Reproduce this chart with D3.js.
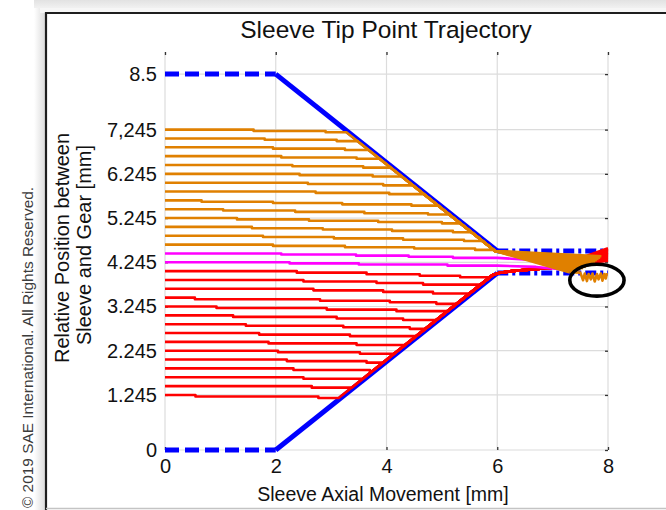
<!DOCTYPE html>
<html>
<head>
<meta charset="utf-8">
<script src="https://cdn.jsdelivr.net/npm/d3@7"></script>
<style>
  html, body { margin: 0; padding: 0; background: #ffffff; }
  svg { display: block; }
  text { font-family: "Liberation Sans", Arial, Helvetica, sans-serif; }
</style>
</head>
<body>
<svg id="chart" width="666" height="510"></svg>
<script>
// ---- data -------------------------------------------------------------
const xTicks = [0, 2, 4, 6, 8];
const xTickLabels = ["0", "2", "4", "6", "8"];
const yTicks = [0, 1.245, 2.245, 3.245, 4.245, 5.245, 6.245, 7.245, 8.5];
const yTickLabels = ["0", "1.245", "2.245", "3.245", "4.245", "5.245", "6.245", "7,245", "8.5"];

// guide limits: upper and lower contact envelope
const upperPre  = [[0, 8.5], [2, 8.5]];
const upperRamp = [[2, 8.5], [6, 4.5]];
const upperPost = [[6, 4.5], [8, 4.5]];
const lowerPre  = [[0, 0], [2, 0]];
const lowerRamp = [[2, 0], [6, 4.0]];
const lowerPost = [[6, 4.0], [8, 4.0]];

// orange tip paths (start above the gap): stepped drift, then follow upper ramp
const orangeSteps = [
  [[0, 7.245], [1.6, 7.215], [2.9, 7.185]],
  [[0, 7.045], [1.8, 7.015], [3.1, 6.985]],
  [[0, 6.845], [1.95, 6.815], [3.25, 6.785]],
  [[0, 6.645], [2.1, 6.615], [3.46, 6.585]],
  [[0, 6.445], [2.3, 6.415], [3.58, 6.385]],
  [[0, 6.245], [2.43, 6.215], [3.75, 6.185]],
  [[0, 6.045], [2.58, 6.015], [3.94, 5.985]],
  [[0, 5.845], [2.72, 5.815], [4.05, 5.785]],
  [[0, 5.645], [0.66, 5.615], [1.95, 5.585], [3.2, 5.555], [4.45, 5.525]],
  [[0, 5.445], [1.05, 5.415], [2.35, 5.385], [3.6, 5.355], [4.75, 5.325]],
  [[0, 5.245], [1.3, 5.215], [2.6, 5.185], [3.85, 5.155], [5.0, 5.125]],
  [[0, 5.045], [1.57, 5.015], [2.85, 4.985], [4.1, 4.955], [5.2, 4.925]],
  [[0, 4.845], [1.77, 4.815], [3.05, 4.785], [4.3, 4.755], [5.4, 4.725]],
  [[0, 4.645], [1.95, 4.615], [3.25, 4.585], [4.5, 4.555], [5.6, 4.525]]
];
const orangeTails = [
  [[3.275, 7.185], [5.96, 4.5], [7.88, 4.38]],
  [[3.475, 6.985], [5.96, 4.5], [7.86, 4.35]],
  [[3.675, 6.785], [5.96, 4.5], [7.83, 4.32]],
  [[3.875, 6.585], [5.96, 4.5], [7.80, 4.29]],
  [[4.075, 6.385], [5.96, 4.5], [7.77, 4.26]],
  [[4.275, 6.185], [5.96, 4.5], [7.73, 4.23]],
  [[4.475, 5.985], [5.96, 4.5], [7.69, 4.20]],
  [[4.675, 5.785], [5.96, 4.5], [7.65, 4.17]],
  [[4.935, 5.525], [5.96, 4.5], [7.60, 4.14]],
  [[5.135, 5.325], [5.96, 4.5], [7.55, 4.11]],
  [[5.335, 5.125], [5.96, 4.5], [7.50, 4.08]],
  [[5.535, 4.925], [5.96, 4.5], [7.44, 4.06]],
  [[5.735, 4.725], [5.96, 4.5], [7.38, 4.04]],
  [[5.935, 4.525], [5.96, 4.5], [7.30, 4.02]]
];
// chattering of the orange paths at the end of travel
const orangeSettle = [
  [7.30, 4.02], [7.50, 4.01], [7.55, 3.84], [7.58, 3.99], [7.62, 3.82], [7.65, 3.98],
  [7.69, 3.86], [7.72, 3.99], [7.76, 3.81], [7.80, 3.98], [7.83, 3.86], [7.87, 3.99],
  [7.90, 3.83], [7.93, 3.98], [7.96, 3.88], [7.98, 4.00]
];

// magenta tip paths (start inside the gap)
const magentaSteps = [
  [[0, 4.445], [2.1, 4.42], [3.45, 4.395], [4.4, 4.37], [5.2, 4.345]],
  [[0, 4.245], [2.25, 4.22], [3.5, 4.195], [5.1, 4.17]]
];
const magentaTails = [
  [[6.0, 4.345], [6.7, 4.29], [7.3, 4.12]],
  [[6.0, 4.17], [6.7, 4.14], [7.2, 4.08]]
];

// red tip paths (start below the gap): stepped drift, then follow lower ramp
const redSteps = [
  [[0, 4.045], [2.38, 4.01], [3.64, 3.975], [4.6, 3.94], [5.33, 3.905]],
  [[0, 3.845], [2.5, 3.81], [3.82, 3.775], [4.66, 3.74]],
  [[0, 3.645], [2.68, 3.61], [3.94, 3.575], [4.84, 3.54]],
  [[0, 3.445], [0.54, 3.41], [2.8, 3.375], [4.06, 3.34], [4.9, 3.305]],
  [[0, 3.245], [0.93, 3.21], [2.92, 3.175], [4.18, 3.14]],
  [[0, 3.045], [1.23, 3.01], [3.1, 2.975], [4.3, 2.94]],
  [[0, 2.845], [1.46, 2.81], [3.22, 2.775], [4.42, 2.74]],
  [[0, 2.645], [1.7, 2.61], [3.34, 2.575]],
  [[0, 2.445], [1.87, 2.41], [3.46, 2.375]],
  [[0, 2.245], [2.04, 2.21], [3.52, 2.175]],
  [[0, 2.045], [2.2, 2.01], [3.64, 1.975]],
  [[0, 1.845], [2.32, 1.81], [3.7, 1.775]],
  [[0, 1.645], [2.5, 1.61]],
  [[0, 1.445], [2.65, 1.41]],
  [[0, 1.245], [0.55, 1.21], [2.77, 1.175]]
];
const redHits = [
  [5.865, 3.905], [5.70, 3.74], [5.50, 3.54], [5.265, 3.305], [5.10, 3.14],
  [4.90, 2.94], [4.70, 2.74], [4.535, 2.575], [4.335, 2.375], [4.135, 2.175],
  [3.935, 1.975], [3.735, 1.775], [3.57, 1.61], [3.37, 1.41], [3.135, 1.175]
];
const redEnds = [4.56, 4.54, 4.52, 4.50, 4.48, 4.46, 4.44, 4.42, 4.40, 4.38, 4.36, 4.34, 4.32, 4.30, 4.28];
const redCorner = [[5.92, 3.96], [6.05, 4.01], [6.3, 4.05], [7.0, 4.12]];

// ---- layout -----------------------------------------------------------
const svg = d3.select("#chart");
const x = d3.scaleLinear().domain([0, 8]).range([165, 608]);
const y = d3.scaleLinear().domain([0, 9]).range([450, 52]);

// window frame
const defs = svg.append("defs");
const gTop = defs.append("linearGradient").attr("id", "topShade").attr("x1", 0).attr("y1", 0).attr("x2", 0).attr("y2", 1);
gTop.append("stop").attr("offset", 0).attr("stop-color", "#e2e2e2");
gTop.append("stop").attr("offset", 1).attr("stop-color", "#f1f1f1");
const gLeft = defs.append("linearGradient").attr("id", "leftShade").attr("x1", 0).attr("y1", 0).attr("x2", 1).attr("y2", 0);
gLeft.append("stop").attr("offset", 0).attr("stop-color", "#ffffff");
gLeft.append("stop").attr("offset", 1).attr("stop-color", "#dcdcdc");

svg.append("rect").attr("x", 0).attr("y", 0).attr("width", 666).attr("height", 510).attr("fill", "#ffffff");
svg.append("rect").attr("x", 34).attr("y", 0).attr("width", 632).attr("height", 8).attr("fill", "url(#topShade)");
svg.append("rect").attr("x", 34).attr("y", 8).attr("width", 11).attr("height", 502).attr("fill", "url(#leftShade)");
svg.append("rect").attr("x", 40).attr("y", 8).attr("width", 626).attr("height", 5).attr("fill", "#f6f6f6");
svg.append("path").attr("d", "M46,510 V13 H666").attr("fill", "none").attr("stroke", "#1e1e1e").attr("stroke-width", 2.2);
svg.append("line").attr("x1", 46).attr("x2", 666).attr("y1", 508.5).attr("y2", 508.5).attr("stroke", "#c4c4c4").attr("stroke-width", 1.5);

// copyright notice
svg.append("text")
  .attr("transform", "translate(33,508) rotate(-90)")
  .attr("font-family", "'Open Sans', 'Noto Sans', sans-serif")
  .attr("font-size", 15.4)
  .attr("fill", "#3c3c3c")
  .text("© 2019 SAE International. All Rights Reserved.");

// grid
const grid = svg.append("g");
grid.selectAll("line.gx").data(xTicks).join("line")
  .attr("x1", d => x(d)).attr("x2", d => x(d)).attr("y1", y(9)).attr("y2", y(0))
  .attr("stroke", "#dcdcdc").attr("stroke-width", 1.2);
grid.selectAll("line.gy").data(yTicks).join("line")
  .attr("x1", x(0)).attr("x2", x(8)).attr("y1", d => y(d)).attr("y2", d => y(d))
  .attr("stroke", "#dcdcdc").attr("stroke-width", 1.2);

// axes with inward ticks on all four sides
function styleAxis(g) {
  g.select(".domain").remove();
  g.selectAll(".tick line").attr("stroke", "#333").attr("stroke-width", 1.3);
  g.selectAll(".tick text").attr("font-family", "'Liberation Sans', Arial, sans-serif").attr("font-size", 20).attr("fill", "#111");
}
svg.append("g").attr("transform", `translate(0,${y(0)})`)
  .call(d3.axisBottom(x).tickValues(xTicks).tickFormat((d, i) => xTickLabels[i]).tickSizeInner(-3).tickSizeOuter(0).tickPadding(9))
  .call(styleAxis);
svg.append("g").attr("transform", `translate(${x(0)},0)`)
  .call(d3.axisLeft(y).tickValues(yTicks).tickFormat((d, i) => yTickLabels[i]).tickSizeInner(-3).tickSizeOuter(0).tickPadding(8))
  .call(styleAxis);
svg.append("g").attr("transform", `translate(0,${y(9)})`)
  .call(d3.axisTop(x).tickValues(xTicks).tickFormat("").tickSizeInner(-3).tickSizeOuter(0))
  .call(styleAxis);
svg.append("g").attr("transform", `translate(${x(8)},0)`)
  .call(d3.axisRight(y).tickValues(yTicks).tickFormat("").tickSizeInner(-3).tickSizeOuter(0))
  .call(styleAxis);

// ---- marks ------------------------------------------------------------
const line = d3.line().x(d => x(d[0])).y(d => y(d[1]));
const plot = svg.append("g");

function drawLimit(pts, dash) {
  plot.append("path").attr("d", line(pts)).attr("fill", "none")
    .attr("stroke", "#0000ff").attr("stroke-width", 5)
    .attr("stroke-dasharray", dash);
}
drawLimit(upperPre, "14 6");
drawLimit(upperRamp, null);
drawLimit(upperPost, "11 4 3 4");
drawLimit(lowerPre, "14 6");
drawLimit(lowerRamp, null);
drawLimit(lowerPost, "11 4 3 4");

// expand a step-after vertex list into an explicit polyline
function stairs(steps) {
  const out = [steps[0]];
  for (let i = 1; i < steps.length; i++) {
    out.push([steps[i][0], steps[i - 1][1]]);
    out.push(steps[i]);
  }
  return out;
}
function drawPath(pts, color) {
  plot.append("path").attr("d", line(pts)).attr("fill", "none")
    .attr("stroke", color).attr("stroke-width", 2.6)
    .attr("stroke-linejoin", "round");
}

redSteps.forEach((s, i) => {
  drawPath(stairs(s).concat([redHits[i]], redCorner, [[8, redEnds[i]]]), "#ff0000");
});
magentaSteps.forEach((s, i) => {
  drawPath(stairs(s).concat(magentaTails[i]), "#ff00ff");
});
orangeSteps.forEach((s, i) => {
  drawPath(stairs(s).concat(orangeTails[i]), "#e08000");
});
drawPath(orangeSettle, "#e08000");

// highlight ring around the end-of-travel chatter
svg.append("ellipse")
  .attr("cx", x(7.8)).attr("cy", y(3.84))
  .attr("rx", x(0.49) - x(0)).attr("ry", y(0) - y(0.36))
  .attr("fill", "none").attr("stroke", "#000").attr("stroke-width", 3.6);

// ---- titles -----------------------------------------------------------
svg.append("text").attr("x", 386).attr("y", 38).attr("text-anchor", "middle")
  .attr("font-size", 24.5).attr("fill", "#111").text("Sleeve Tip Point Trajectory");
svg.append("text").attr("x", 383).attr("y", 501).attr("text-anchor", "middle")
  .attr("font-size", 19.5).attr("fill", "#111").text("Sleeve Axial Movement [mm]");
svg.append("text").attr("transform", "translate(69,248) rotate(-90)").attr("text-anchor", "middle")
  .attr("font-size", 20).attr("fill", "#111").text("Relative Position between");
svg.append("text").attr("transform", "translate(91,245) rotate(-90)").attr("text-anchor", "middle")
  .attr("font-size", 20).attr("fill", "#111").text("Sleeve and Gear [mm]");
</script>
</body>
</html>
